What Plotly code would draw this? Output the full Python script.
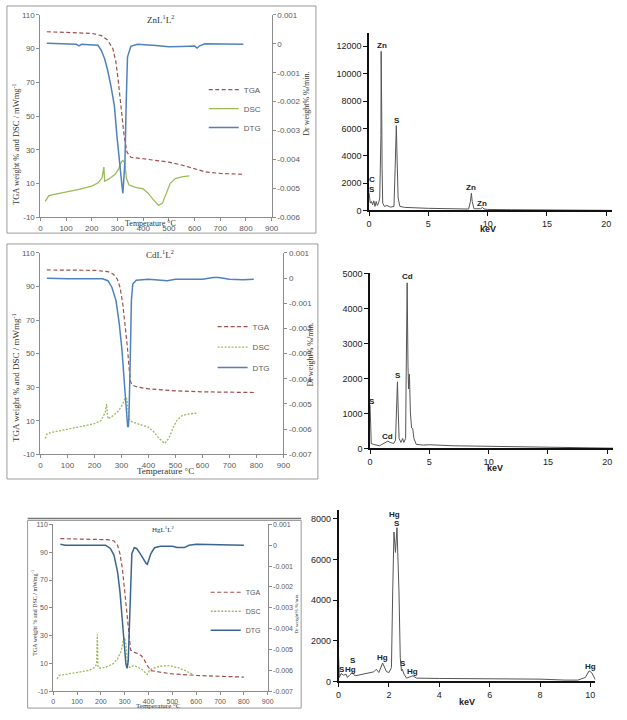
import plotly.graph_objects as go

# ---------------- data ----------------
# Zn complex
T1_tga = [25, 100, 200, 237, 262, 282, 294, 303, 311, 320, 326, 337, 352, 400, 450, 500, 550, 600, 640, 700, 790]
W1_tga = [100, 99.6, 99, 97.7, 95, 90, 82, 71, 60, 48, 38, 28.6, 25.6, 24.7, 23.8, 22.7, 21, 19, 17, 16, 15.5]
T1_dsc = [19, 32, 45, 100, 150, 200, 225, 240, 247, 250, 265, 290, 305, 315, 320, 328, 335, 345, 370, 400, 420, 440, 460, 475, 490, 505, 525, 550, 580]
S1_dsc = [-0.6, 2.7, 3.3, 4.8, 6.6, 8.5, 10.5, 13.4, 19.8, 11.4, 12.6, 15.3, 18.8, 22.7, 23.7, 22.7, 13, 9.1, 7.7, 6.8, 4.2, 0.3, -3, -1.6, 4.2, 10, 13, 14, 14.5]
T1_dtg = [25, 100, 140, 150, 160, 224, 237, 250, 262, 275, 288, 298, 307, 316, 321, 329, 334, 339, 352, 378, 450, 500, 550, 600, 610, 620, 640, 700, 790]
D1_dtg = [0.00002, -0.00001, -0.00002, -0.00007, -0.00002, -0.00005, -0.000225, -0.000517, -0.000925, -0.00148, -0.00215, -0.0032, -0.00409, -0.00478, -0.00517, -0.00409, -0.00203, -0.00046, -0.00009, -0.00002, -0.00006, -0.0001, -0.00009, -0.00008, -0.00015, -0.00007, 0.0, 0.0, -0.00002]

# Cd complex
T2_tga = [24, 200, 250, 270, 285, 295, 305, 315, 322, 328, 333, 340, 360, 400, 450, 500, 600, 700, 795]
W2_tga = [99.8, 99.6, 98.8, 97.3, 94.3, 89.4, 79.6, 66, 54, 42.5, 33.6, 31.3, 30, 29, 28.3, 27.8, 27.2, 27.2, 26.8]
T2_dsc = [18, 25, 50, 100, 150, 200, 225, 240, 245, 250, 270, 290, 305, 315, 320, 328, 340, 370, 400, 420, 440, 460, 475, 490, 505, 525, 550, 580]
S2_dsc = [-0.6, 2.3, 3.3, 4.9, 6.2, 8.2, 10.1, 15, 20, 11.1, 13.1, 16, 20, 23.8, 22.9, 11.1, 9.2, 7.8, 6.2, 3.3, -0.6, -3.5, -0.6, 5.3, 10.1, 13.1, 14, 14.6]
T2_dtg = [24, 100, 230, 250, 265, 280, 292, 302, 310, 318, 323, 326, 328, 333, 337, 342, 355, 400, 450, 470, 500, 600, 640, 660, 700, 750, 790]
D2_dtg = [-0.000007, -0.00003, -0.00003, -0.000107, -0.000374, -0.000894, -0.00181, -0.00285, -0.00403, -0.00507, -0.0059, -0.0059, -0.00547, -0.00313, -0.000894, -0.00024, -0.00009, -0.00005, -0.00009, -0.000107, -0.00005, -0.00005, 0.00002, 0.00002, -0.00005, -0.00007, -0.00005]

# Hg complex
T3_tga = [30, 150, 230, 255, 270, 280, 290, 300, 310, 318, 325, 340, 360, 370, 380, 395, 410, 450, 500, 600, 700, 800]
W3_tga = [99.8, 99.6, 99, 98.1, 95, 89, 78.5, 62, 43, 28.6, 19.6, 18, 16.8, 15.6, 13.2, 8.5, 4.9, 3.7, 2.5, 1.4, 0.9, 0.2]
T3_dsc = [16, 25, 50, 100, 150, 175, 182, 185, 188, 200, 220, 250, 270, 285, 295, 300, 305, 312, 320, 340, 350, 370, 385, 395, 405, 420, 450, 480, 500, 530, 560, 580, 590]
S3_dsc = [-1, 1.4, 2.1, 3.3, 5, 7.3, 9.7, 31, 7.3, 6.6, 7.3, 9.7, 13.2, 19, 27.4, 28.6, 24, 9.7, 7.3, 8.5, 7.8, 6.1, 3.7, 2.1, 5.4, 6.6, 8, 8.5, 8, 6.6, 4.4, 2.6, 1.8]
T3_dtg = [30, 50, 220, 240, 255, 270, 280, 290, 298, 305, 310, 315, 320, 325, 330, 340, 350, 365, 380, 390, 395, 402, 410, 425, 450, 500, 520, 550, 570, 600, 700, 800]
D3_dtg = [0.00005, 0, 0, -0.000153, -0.00047, -0.00127, -0.00221, -0.00347, -0.00473, -0.00569, -0.0059, -0.00553, -0.0038, -0.00142, -0.0004, -0.00012, -0.000153, -0.0004, -0.00071, -0.00087, -0.00091, -0.00071, -0.0004, -0.00012, -0.00005, -0.00005, -0.00011, -0.00011, 0, 0.00005, 0.00003, 0]

# EDX spectra
E1_kev = [0, 0.1, 0.2, 0.3, 0.4, 0.5, 0.6, 0.7, 0.8, 0.9, 1.0, 1.02, 1.06, 1.1, 1.15, 1.3, 1.5, 1.8, 2.1, 2.2, 2.3, 2.35, 2.45, 2.6, 3, 5, 7, 8.4, 8.55, 8.63, 8.7, 8.85, 9.4, 9.57, 9.7, 10, 12, 15, 20, 20.5]
E1_cnt = [1300, 530, 650, 410, 700, 290, 650, 360, 530, 900, 5480, 11630, 8000, 3070, 530, 290, 360, 240, 290, 3070, 6200, 4270, 900, 290, 220, 150, 100, 100, 650, 1250, 650, 120, 120, 220, 100, 70, 50, 30, 0, 0]
E1_lbl = ["C", "S", "Zn", "S", "Zn", "Zn"]
E1_lx = [0.28, 0.22, 1.05, 2.32, 8.63, 9.54]
E1_ly = [2290, 1545, 12070, 6610, 1665, 530]

E2_kev = [0, 0.05, 0.1, 0.3, 0.5, 0.8, 1.0, 1.3, 1.5, 1.7, 2.0, 2.15, 2.25, 2.31, 2.38, 2.45, 2.6, 2.75, 2.85, 3.0, 3.05, 3.1, 3.13, 3.2, 3.25, 3.32, 3.4, 3.5, 3.6, 3.7, 3.9, 4.5, 5, 7, 10, 12, 15, 20, 20.5]
E2_cnt = [1250, 377, 140, 113, 94, 75, 113, 170, 207, 170, 140, 236, 1226, 1906, 1038, 283, 170, 283, 170, 283, 2170, 4057, 4736, 2358, 1698, 2123, 1038, 585, 566, 283, 113, 94, 104, 75, 57, 38, 19, 9, 5]
E2_lbl = ["S", "Cd", "S", "Cd"]
E2_lx = [0.19, 1.44, 2.32, 3.15]
E2_ly = [1350, 330, 2075, 4905]

E3_kev = [0, 0.03, 0.1, 0.2, 0.3, 0.35, 0.45, 0.55, 0.65, 0.8, 1.0, 1.2, 1.4, 1.5, 1.6, 1.75, 1.9, 2.0, 2.1, 2.15, 2.2, 2.26, 2.3, 2.32, 2.4, 2.45, 2.5, 2.53, 2.6, 2.7, 2.95, 3.1, 4, 6, 8, 9, 9.5, 9.8, 9.95, 10.05, 10.2]
E3_cnt = [1214, 194, 388, 308, 356, 194, 324, 437, 275, 308, 372, 421, 470, 599, 437, 907, 486, 437, 680, 4400, 7350, 6346, 7480, 7560, 4400, 1166, 518, 599, 356, 162, 275, 162, 146, 130, 113, 65, 65, 194, 518, 437, 81]
E3_lbl = ["S", "Hg", "S", "Hg", "Hg", "S", "S", "Hg", "Hg"]
E3_lx = [0.13, 0.46, 0.57, 1.76, 2.24, 2.31, 2.54, 2.93, 10.0]
E3_ly = [600, 567, 1036, 1166, 8200, 7750, 858, 470, 712]

# ticks
T_ticks = [0, 100, 200, 300, 400, 500, 600, 700, 800, 900]
L_ticks = [-10, 10, 30, 50, 70, 90, 110]
L_text = ["-10", "10", "30", "50", "70", "90", "110"]
R1_ticks = [-0.006, -0.005, -0.004, -0.003, -0.002, -0.001, 0, 0.001]
R1_text = ["-0.006", "-0.005", "-0.004", "-0.003", "-0.002", "-0.001", "0", "0.001"]
R2_ticks = [-0.007, -0.006, -0.005, -0.004, -0.003, -0.002, -0.001, 0, 0.001]
R2_text = ["-0.007", "-0.006", "-0.005", "-0.004", "-0.003", "-0.002", "-0.001", "0", "0.001"]
E1_yt = [0, 2000, 4000, 6000, 8000, 10000, 12000]
E2_yt = [0, 1000, 2000, 3000, 4000, 5000]
E3_yt = [0, 2000, 4000, 6000, 8000]
E12_xt = [0, 5, 10, 15, 20]
E3_xt = [0, 2, 4, 6, 8, 10]

# ---------------- layout helpers ----------------
W, H = 627, 720
def fx(p): return p / W
def fy(p): return 1 - p / H

TGA_C = "#a0504c"
DSC_C = "#9bbb59"
DTG_C = "#4f81bd"
DTG3_C = "#3b6590"
GREY = "#8c8c8c"
TICKF = dict(family="Liberation Sans, Arial, sans-serif", size=8, color="#595959")
SERIF = "Liberation Serif, Times New Roman, serif"
EDXF = dict(family="Liberation Sans Narrow, Liberation Sans, Arial, sans-serif", size=9, color="#222")

fig = go.Figure()

panels = [
    (T1_tga, W1_tga, T1_dsc, S1_dsc, T1_dtg, D1_dtg, "x", "y", "y2", "legend", "solid", DTG_C),
    (T2_tga, W2_tga, T2_dsc, S2_dsc, T2_dtg, D2_dtg, "x2", "y3", "y4", "legend2", "2px,1.5px", DTG_C),
    (T3_tga, W3_tga, T3_dsc, S3_dsc, T3_dtg, D3_dtg, "x3", "y5", "y6", "legend3", "2px,1.5px", DTG3_C),
]
for i, (tt, wt, td, sd, tg, dg, xa, yl, yr, lg, dd, dc) in enumerate(panels):
    fig.add_trace(go.Scatter(x=tt, y=wt, xaxis=xa, yaxis=yl, mode="lines", name="TGA",
                             line=dict(color=TGA_C, width=1.2, dash="4px,2.5px"),
                             legend=lg, legendgroup=f"a{i}"))
    fig.add_trace(go.Scatter(x=td, y=sd, xaxis=xa, yaxis=yl, mode="lines", name="DSC",
                             line=dict(color=DSC_C, width=1.3, dash=dd),
                             legend=lg, legendgroup=f"b{i}"))
    fig.add_trace(go.Scatter(x=tg, y=dg, xaxis=xa, yaxis=yr, mode="lines", name="DTG",
                             line=dict(color=dc, width=1.5),
                             legend=lg, legendgroup=f"c{i}"))

edx = [(E1_kev, E1_cnt, "x4", "y7"), (E2_kev, E2_cnt, "x5", "y8"), (E3_kev, E3_cnt, "x6", "y9")]
for k, c, xa, ya in edx:
    fig.add_trace(go.Scatter(x=k, y=c, xaxis=xa, yaxis=ya, mode="lines", showlegend=False,
                             line=dict(color="#555555", width=1)))

def tga_x(dom, anchor, fs=8):
    return dict(domain=dom, anchor=anchor, range=[0, 900], tickvals=T_ticks, showline=True,
                linecolor=GREY, linewidth=1, ticks="outside", ticklen=3, tickcolor=GREY,
                tickfont=dict(TICKF, size=fs), showgrid=False, zeroline=False)

def tga_yl(dom, anchor, fs=8):
    return dict(domain=dom, anchor=anchor, range=[-10, 110], tickvals=L_ticks, ticktext=L_text,
                showline=True, linecolor=GREY, linewidth=1, ticks="outside", ticklen=3,
                tickcolor=GREY, tickfont=dict(TICKF, size=fs), showgrid=False, zeroline=False)

def tga_yr(over, anchor, rng, tv, tx, fs=8):
    return dict(overlaying=over, anchor=anchor, side="right", range=rng, tickvals=tv, ticktext=tx,
                showline=True, linecolor=GREY, linewidth=1, ticks="outside", ticklen=3,
                tickcolor=GREY, tickfont=dict(TICKF, size=fs), showgrid=False, zeroline=False)

def edx_ax(dom, anchor, rng, tv):
    return dict(domain=dom, anchor=anchor, range=rng, tickvals=tv, ticktext=[str(v) for v in tv],
                showline=True, linecolor="#111", linewidth=1.5, ticks="outside", ticklen=4,
                tickcolor="#111", tickfont=EDXF, showgrid=False, zeroline=False)

layout = dict(
    width=W, height=H, margin=dict(l=0, r=0, t=0, b=0),
    paper_bgcolor="white", plot_bgcolor="white",
    xaxis=tga_x([fx(38), fx(273)], "y"),
    yaxis=tga_yl([fy(216), fy(11)], "x"),
    yaxis2=tga_yr("y", "x", [-0.006, 0.001], R1_ticks, R1_text),
    xaxis2=tga_x([fx(38), fx(285)], "y3"),
    yaxis3=tga_yl([fy(456), fy(252)], "x2"),
    yaxis4=tga_yr("y3", "x2", [-0.007, 0.001], R2_ticks, R2_text),
    xaxis3=tga_x([fx(51), fx(269)], "y5", 7),
    yaxis5=tga_yl([fy(696), fy(527)], "x3", 7),
    yaxis6=tga_yr("y5", "x3", [-0.007, 0.001], R2_ticks, R2_text, 7),
    xaxis4=edx_ax([fx(372), fx(619)], "y7", [0, 20.5], E12_xt),
    yaxis7=edx_ax([fy(209), fy(29)], "x4", [0, 13000], E1_yt),
    xaxis5=edx_ax([fx(373), fx(620)], "y8", [0, 20.5], E12_xt),
    yaxis8=edx_ax([fy(450), fy(272)], "x5", [0, 5030], E2_yt),
    xaxis6=edx_ax([fx(341), fx(602)], "y9", [0, 10.2], E3_xt),
    yaxis9=edx_ax([fy(686), fy(512)], "x6", [0, 8450], E3_yt),
)
legfont = dict(family="Liberation Sans, Arial, sans-serif", size=8, color="#595959")
for name, x0, y0, fs, gap in [("legend", 204, 72, 8, 0), ("legend2", 213, 312, 8, 1.5),
                              ("legend3", 206, 581, 7, 0)]:
    layout[name] = dict(x=fx(x0), y=fy(y0), xanchor="left", yanchor="top", bgcolor="rgba(0,0,0,0)",
                        font=dict(legfont, size=fs), tracegroupgap=gap, itemwidth=30,
                        traceorder="grouped")
fig.update_layout(**layout)

# frames
frames = [(4, 2, 318, 232), (4, 243, 320, 481), (25, 523, 303, 713)]
for x0, y0, x1, y1 in frames:
    fig.add_shape(type="rect", xref="paper", yref="paper", x0=fx(x0), x1=fx(x1), y0=fy(y1), y1=fy(y0),
                  line=dict(color="#9a9a9a", width=1), fillcolor="rgba(0,0,0,0)", layer="below")
fig.add_shape(type="line", xref="paper", yref="paper", x0=fx(25), x1=fx(303), y0=fy(521), y1=fy(521),
              line=dict(color="#777", width=1.5))

ann = []
def A(text, x, y, size, family=SERIF, angle=0, color="#333"):
    ann.append(dict(text=text, x=fx(x), y=fy(y), xref="paper", yref="paper", showarrow=False,
                    textangle=angle, font=dict(family=family, size=size, color=color),
                    xanchor="center", yanchor="middle"))

A("ZnL<sup>1</sup>L<sup>2</sup>", 160, 15, 9)
A("CdL<sup>1</sup>L<sup>2</sup>", 160, 253, 9)
A("HgL<sup>1</sup>L<sup>2</sup>", 163, 532, 7)
A("Temperature °C", 150, 222, 8)
A("Temperature °C", 165, 473, 9)
A("Temperature °C", 158, 711, 7)
A("TGA weight % and DSC / mWmg<sup>-1</sup>", 13, 142, 8.5, angle=-90)
A("TGA weight % and DSC / mWmg<sup>-1</sup>", 13, 378, 9, angle=-90)
A("TGA weight % and DSC / mWmg<sup>-1</sup>", 32, 616, 6, angle=-90)
A("Dr weight% %/min.", 309, 101, 8, angle=-90)
A("Dr weight% %/min.", 313, 355, 8, angle=-90)
A("Dr weight% %/min.", 298, 617, 5, angle=-90)
A("<b>keV</b>", 493, 228, 9, family=EDXF["family"], color="#222")
A("<b>keV</b>", 500, 470, 9, family=EDXF["family"], color="#222")
A("<b>keV</b>", 472, 707, 9, family=EDXF["family"], color="#222")

for lbls, lx, ly, xa, ya in [(E1_lbl, E1_lx, E1_ly, "x4", "y7"), (E2_lbl, E2_lx, E2_ly, "x5", "y8"),
                             (E3_lbl, E3_lx, E3_ly, "x6", "y9")]:
    for t, xv, yv in zip(lbls, lx, ly):
        ann.append(dict(text=f"<b>{t}</b>", x=xv, y=yv, xref=xa, yref=ya, showarrow=False,
                        font=dict(family=EDXF["family"], size=8, color="#222"),
                        xanchor="center", yanchor="middle"))

fig.update_layout(annotations=ann)
fig.write_html("out.html", config={"displayModeBar": False},
               post_script="document.body.style.margin='0';document.body.style.overflow='hidden';")
